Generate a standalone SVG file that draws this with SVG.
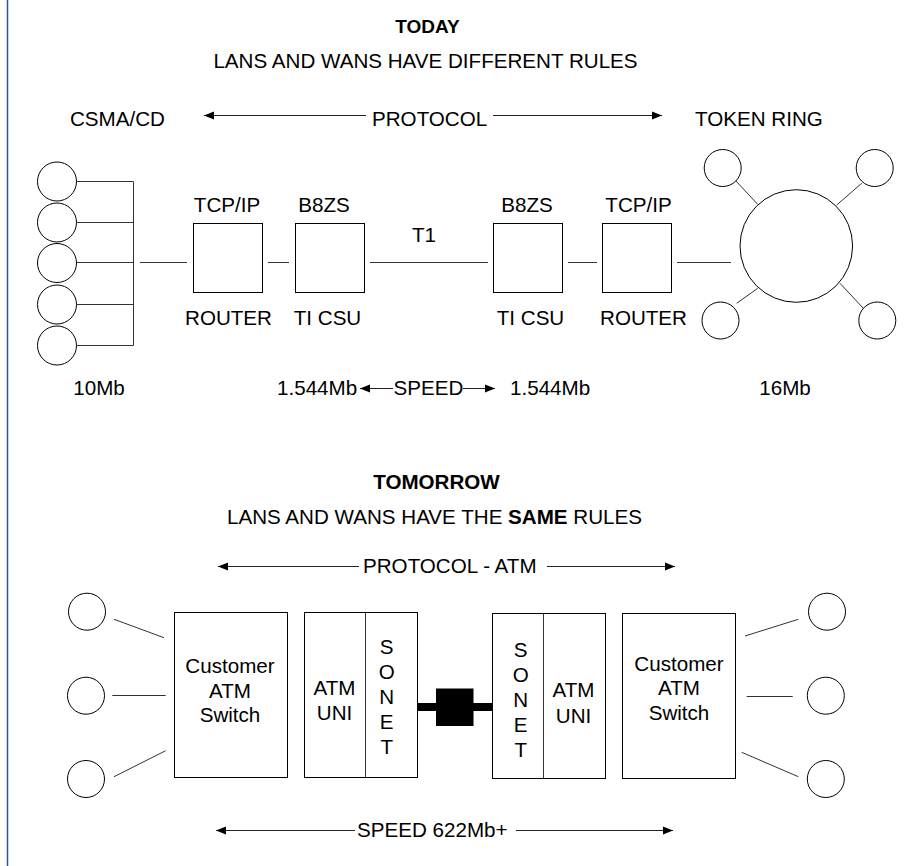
<svg xmlns="http://www.w3.org/2000/svg" width="919" height="866" viewBox="0 0 919 866">
<style>
text{font-family:"Liberation Sans",Arial,sans-serif;font-size:20.6px;fill:#000}
.b{font-weight:bold}
.m{text-anchor:middle}
.box{fill:#fff;stroke:#000;stroke-width:1}
.circ{fill:#fff;stroke:#000;stroke-width:1}
.ln{fill:none;stroke:#333;stroke-width:1}
.arr{fill:none;stroke:#222;stroke-width:1;marker-end:url(#ah)}
</style>
<defs>
<marker id="ah" markerUnits="userSpaceOnUse" markerWidth="11" markerHeight="9" refX="10" refY="4.5" orient="auto">
<path d="M0,0.5 L10,4.5 L0,8.5 z" fill="#000"/>
</marker>
</defs>
<rect x="0" y="0" width="919" height="866" fill="#fff"/>
<line x1="7.5" y1="0" x2="7.5" y2="866" stroke="#2f5597" stroke-width="1.5"/>

<g id="titles">
<text class="b m" x="427.5" y="33" style="font-size:19px">TODAY</text>
<text class="m" x="425.5" y="68">LANS AND WANS HAVE DIFFERENT RULES</text>
<text x="70" y="126">CSMA/CD</text>
<text x="372" y="126">PROTOCOL</text>
<text x="695" y="126">TOKEN RING</text>
<text class="m" x="99" y="395">10Mb</text>
<text x="277" y="395">1.544Mb</text>
<text class="m" x="428.5" y="395">SPEED</text>
<text x="510" y="395">1.544Mb</text>
<text class="m" x="785" y="395">16Mb</text>
<text class="b m" x="436.5" y="489">TOMORROW</text>
<text class="m" x="434.5" y="524">LANS AND WANS HAVE THE <tspan class="b">SAME</tspan> RULES</text>
<text x="363" y="573">PROTOCOL - ATM</text>
<text x="357" y="837">SPEED 622Mb+</text>
</g>

<g id="connectors">
<line class="arr" x1="366" y1="115.5" x2="204" y2="115.5"/>
<line class="arr" x1="493" y1="115.5" x2="662" y2="115.5"/>
<line class="arr" x1="393" y1="388.5" x2="360" y2="388.5"/>
<line class="arr" x1="463" y1="388.5" x2="495" y2="388.5"/>
<line class="arr" x1="359" y1="566.5" x2="218" y2="566.5"/>
<line class="arr" x1="547" y1="566.5" x2="675" y2="566.5"/>
<line class="arr" x1="355" y1="830.5" x2="216" y2="830.5"/>
<line class="arr" x1="516" y1="830.5" x2="673" y2="830.5"/>
<!-- bus -->
<path class="ln" d="M76.5,181.5 H133.5 M76.5,222.5 H133.5 M76.5,262.5 H133.5 M76.5,304.5 H133.5 M76.5,345.5 H133.5 M133.5,181.5 V345.5"/>
<line class="ln" x1="140" y1="262.5" x2="187" y2="262.5"/>
<line class="ln" x1="268" y1="262.5" x2="289" y2="262.5"/>
<line class="ln" x1="370" y1="262.5" x2="488" y2="262.5"/>
<line class="ln" x1="568" y1="262.5" x2="597" y2="262.5"/>
<line class="ln" x1="677" y1="262.5" x2="731" y2="262.5"/>
<!-- token ring spokes -->
<line class="ln" x1="735" y1="180" x2="757.7" y2="204.3"/>
<line class="ln" x1="836.7" y1="205" x2="861.7" y2="183.3"/>
<line class="ln" x1="736.7" y1="303.3" x2="757.7" y2="288.3"/>
<line class="ln" x1="840" y1="283.3" x2="863.3" y2="308.3"/>
<!-- tomorrow left -->
<line class="ln" x1="114" y1="619.3" x2="164" y2="637.7"/>
<line class="ln" x1="112.3" y1="695.5" x2="165.7" y2="695.5"/>
<line class="ln" x1="114" y1="776.7" x2="165.7" y2="750.7"/>
<!-- tomorrow right -->
<line class="ln" x1="745" y1="636" x2="798.3" y2="619.3"/>
<line class="ln" x1="746.7" y1="696.5" x2="792.7" y2="696.5"/>
<line class="ln" x1="741.7" y1="752.3" x2="798.3" y2="776.7"/>
<!-- SONET link -->
<rect x="417.5" y="703" width="75" height="8" fill="#000"/>
<rect x="436" y="688.5" width="37.5" height="37.5" fill="#000"/>
</g>

<g id="lan-stations">
<circle class="circ" cx="57" cy="181.5" r="19.5"/>
<circle class="circ" cx="57" cy="222.5" r="19.5"/>
<circle class="circ" cx="57" cy="263" r="19.5"/>
<circle class="circ" cx="57" cy="304.5" r="19.5"/>
<circle class="circ" cx="57" cy="345.5" r="19.5"/>
</g>

<g id="router-left">
<rect class="box" x="193.5" y="223.5" width="69" height="69"/>
<text class="m" x="227" y="212">TCP/IP</text>
<text class="m" x="228.5" y="325">ROUTER</text>
</g>
<g id="csu-left">
<rect class="box" x="295.5" y="223.5" width="69" height="69"/>
<text class="m" x="324" y="212">B8ZS</text>
<text class="m" x="327.5" y="325">TI CSU</text>
</g>
<g id="t1-label"><text class="m" x="424" y="242">T1</text></g>
<g id="csu-right">
<rect class="box" x="493.5" y="223.5" width="69" height="69"/>
<text class="m" x="527" y="212">B8ZS</text>
<text class="m" x="530.5" y="325">TI CSU</text>
</g>
<g id="router-right">
<rect class="box" x="602.5" y="223.5" width="69" height="69"/>
<text class="m" x="638.5" y="212">TCP/IP</text>
<text class="m" x="643.5" y="325">ROUTER</text>
</g>
<g id="token-ring">
<circle class="circ" cx="796.3" cy="246" r="56.3"/>
<circle class="circ" cx="722.7" cy="168" r="18.5"/>
<circle class="circ" cx="874.7" cy="168" r="18.5"/>
<circle class="circ" cx="720.5" cy="320.5" r="18.5"/>
<circle class="circ" cx="877.3" cy="320.5" r="18.5"/>
</g>

<g id="stations-left2">
<circle class="circ" cx="87" cy="611.7" r="18.5"/>
<circle class="circ" cx="86" cy="695.7" r="18.5"/>
<circle class="circ" cx="86" cy="779" r="18.5"/>
</g>
<g id="switch-left">
<rect class="box" x="174.5" y="612.5" width="113" height="165"/>
<text class="m" x="230" y="673">Customer</text>
<text class="m" x="230" y="697.5">ATM</text>
<text class="m" x="230" y="722">Switch</text>
</g>
<g id="uni-left">
<rect class="box" x="304.5" y="612.5" width="113" height="165"/>
<line x1="365.5" y1="612.5" x2="365.5" y2="777.5" stroke="#333"/>
<text class="m" x="334.5" y="695">ATM</text>
<text class="m" x="334.5" y="720">UNI</text>
<text class="m" x="386.7" y="654">S</text>
<text class="m" x="386.7" y="679">O</text>
<text class="m" x="386.7" y="704">N</text>
<text class="m" x="386.7" y="729">E</text>
<text class="m" x="386.7" y="754">T</text>
</g>
<g id="uni-right">
<rect class="box" x="492.5" y="613.5" width="113" height="165"/>
<line x1="543.5" y1="613.5" x2="543.5" y2="778.5" stroke="#333"/>
<text class="m" x="520.7" y="656.5">S</text>
<text class="m" x="520.7" y="681.5">O</text>
<text class="m" x="520.7" y="706.5">N</text>
<text class="m" x="520.7" y="731.5">E</text>
<text class="m" x="520.7" y="756.5">T</text>
<text class="m" x="573.5" y="697">ATM</text>
<text class="m" x="573.5" y="722.5">UNI</text>
</g>
<g id="switch-right">
<rect class="box" x="622.5" y="613.5" width="113" height="165"/>
<text class="m" x="679" y="670.5">Customer</text>
<text class="m" x="679" y="695">ATM</text>
<text class="m" x="679" y="720">Switch</text>
</g>
<g id="stations-right2">
<circle class="circ" cx="827" cy="611.7" r="18.5"/>
<circle class="circ" cx="825.8" cy="695.7" r="18.5"/>
<circle class="circ" cx="825.8" cy="779" r="18.5"/>
</g>
</svg>
